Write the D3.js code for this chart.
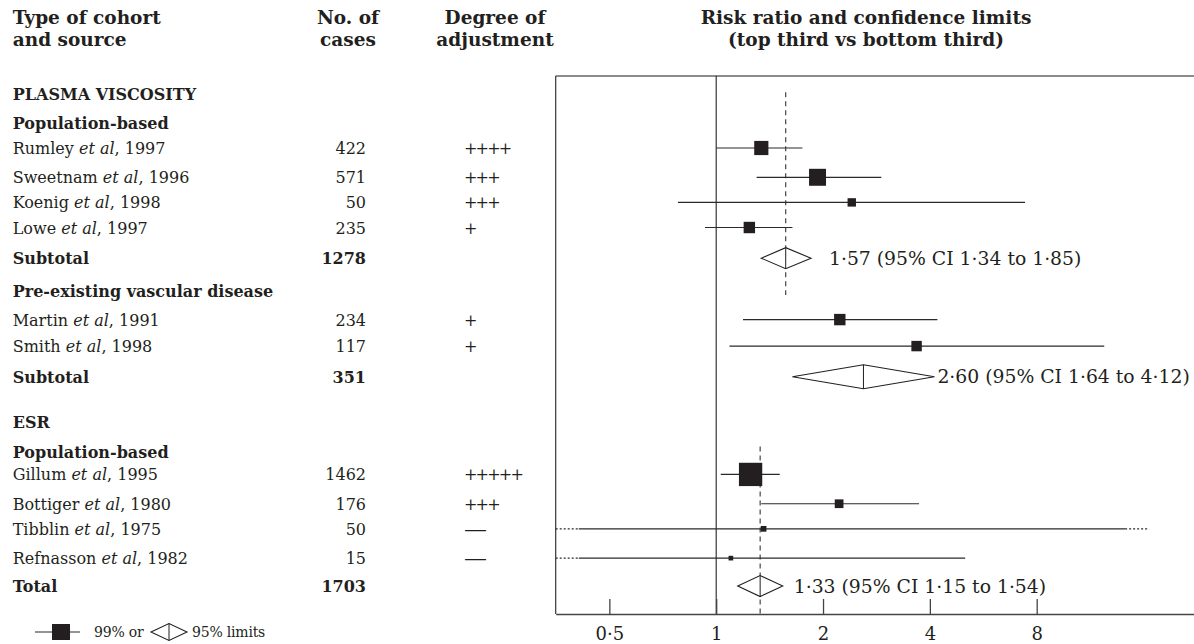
<!DOCTYPE html>
<html lang="en">
<head>
  <meta charset="UTF-8">
  <title>Plasma viscosity and ESR: risk ratios</title>
  <script src="https://d3js.org/d3.v7.min.js"></script>
  <style>
    body { margin: 0; background: #fff; }
    svg text { font-family: "DejaVu Serif", "Liberation Serif", serif; fill: #231f20; }
    .head { font-weight: bold; font-size: 18.5px; }
    .grp { font-weight: bold; font-size: 16px; }
    .row { font-size: 16px; }
    .note { font-size: 18.8px; }
    .leg { font-size: 14px; letter-spacing: -0.2px; }
    .axis text { font-family: "DejaVu Serif", serif; font-size: 18px; fill: #231f20; }
    .axis path, .axis line { stroke: #444; }
  </style>
</head>
<body>
  <script>
    // studies (one entry per cohort)
    var studyNames  = ["Rumley", "Sweetnam", "Koenig", "Lowe", "Martin", "Smith", "Gillum", "Bottiger", "Tibblin", "Refnasson"];
    var studyYears  = [1997, 1996, 1998, 1997, 1991, 1998, 1995, 1980, 1975, 1982];
    var studyCases  = [422, 571, 50, 235, 234, 117, 1462, 176, 50, 15];
    var studyAdjust = ["++++", "+++", "+++", "+", "+", "+", "+++++", "+++", "\u2014", "\u2014"];
    var studyRR     = [1.34, 1.93, 2.41, 1.24, 2.23, 3.67, 1.25, 2.22, 1.36, 1.10];
    var studyLo     = [1.00, 1.30, 0.78, 0.93, 1.19, 1.09, 1.03, 1.34, 0.41, 0.41];
    var studyHi     = [1.75, 2.92, 7.42, 1.64, 4.20, 12.4, 1.51, 3.73, 14.2, 5.03];
    var studyWeight = [37, 53, 13, 24, 24, 20, 100, 14, 6, 4];
    // limits running off the chart (drawn dotted)
    var dottedLo    = [null, null, null, null, null, null, null, null, 0.353, 0.353];
    var dottedHi    = [null, null, null, null, null, null, null, null, 16.6, null];

    // pooled estimates
    var summaryLabels = ["Subtotal", "Subtotal", "Total"];
    var summaryCases  = [1278, 351, 1703];
    var summaryRR     = [1.57, 2.60, 1.33];
    var summaryLo     = [1.34, 1.64, 1.15];
    var summaryHi     = [1.85, 4.12, 1.54];

    var headings = ["PLASMA VISCOSITY", "Population-based", "Pre-existing vascular disease", "ESR", "Population-based"];

    var tickValues = [0.5, 1, 2, 4, 8];

    // layout: row slots (one slot = one text line)
    var studySlot   = [0, 1.05, 1.95, 2.85, 6.15, 7.1, 11.7, 12.75, 13.65, 14.7];
    var summarySlot = [3.95, 8.2, 15.7];
    var headingSlot = [-1.95, -0.9, 5.13, 9.82, 10.9];
    var labelGap    = [18, 3, 11];

    var w = 1194, h = 644;
    var boxLeft = 555.7, boxTop = 76, axisY = 614;

    var svg = d3.select("body").append("svg")
      .attr("width", w)
      .attr("height", h);

    var x = d3.scaleLog().base(2)
      .domain([0.353, 22.2])
      .range([boxLeft, w]);

    var y = d3.scaleLinear()
      .domain([0, 16])
      .range([148, 148 + 16 * 27.9]);

    var side = d3.scaleSqrt()
      .domain([0, 100])
      .range([0, 23.3]);

    function mid(v) { return String(v).replace(".", "\u00b7"); }
    function fix2(v) { return v.toFixed(2).replace(".", "\u00b7"); }

    // column headers
    function twoLine(xp, anchor, a, b) {
      var t = svg.append("text").attr("class", "head").attr("text-anchor", anchor);
      t.append("tspan").attr("x", xp).attr("y", 24).text(a);
      t.append("tspan").attr("x", xp).attr("y", 46).text(b);
    }
    twoLine(12.7, "start", "Type of cohort", "and source");
    twoLine(348, "middle", "No. of", "cases");
    twoLine(495, "middle", "Degree of", "adjustment");
    twoLine(866, "middle", "Risk ratio and confidence limits", "(top third vs bottom third)");

    // group headings
    svg.selectAll(".grp").data(headings).enter().append("text")
      .attr("class", "grp")
      .attr("x", 12.7)
      .attr("y", function(d, i) { return y(headingSlot[i]) + 6; })
      .text(function(d) { return d; });

    // study rows (text)
    var rows = svg.selectAll(".srow").data(studyNames).enter().append("g").attr("class", "srow");
    var nameText = rows.append("text").attr("class", "row")
      .attr("x", 12.7)
      .attr("y", function(d, i) { return y(studySlot[i]) + 6; });
    nameText.append("tspan").text(function(d) { return d + " "; });
    nameText.append("tspan").attr("font-style", "italic").text("et al");
    nameText.append("tspan").text(function(d, i) { return ", " + studyYears[i]; });

    rows.append("text").attr("class", "row")
      .attr("x", 366).attr("text-anchor", "end")
      .attr("y", function(d, i) { return y(studySlot[i]) + 6; })
      .text(function(d, i) { return studyCases[i]; });

    rows.append("text").attr("class", "row")
      .attr("x", 464)
      .attr("letter-spacing", "-1.8")
      .attr("y", function(d, i) { return y(studySlot[i]) + 6; })
      .each(function(d, i) {
        if (studyAdjust[i] === "\u2014") {
          d3.select(this).attr("letter-spacing", null)
            .attr("textLength", 23).attr("lengthAdjust", "spacingAndGlyphs");
        }
      })
      .text(function(d, i) { return studyAdjust[i]; });

    // summary rows (text)
    svg.selectAll(".sumlab").data(summaryLabels).enter().append("text")
      .attr("class", "grp")
      .attr("x", 12.7)
      .attr("y", function(d, i) { return y(summarySlot[i]) + 6; })
      .text(function(d) { return d; });
    svg.selectAll(".sumn").data(summaryCases).enter().append("text")
      .attr("class", "grp")
      .attr("x", 366).attr("text-anchor", "end")
      .attr("y", function(d, i) { return y(summarySlot[i]) + 6; })
      .text(function(d) { return d; });

    // frame
    svg.append("line")
      .attr("x1", boxLeft).attr("x2", w)
      .attr("y1", boxTop).attr("y2", boxTop)
      .attr("stroke", "#666").attr("stroke-width", 1.6);
    svg.append("line")
      .attr("x1", boxLeft).attr("x2", boxLeft)
      .attr("y1", boxTop).attr("y2", axisY)
      .attr("stroke", "#333").attr("stroke-width", 1.2);

    // line of no effect
    svg.append("line")
      .attr("x1", x(1)).attr("x2", x(1))
      .attr("y1", boxTop).attr("y2", axisY)
      .attr("stroke", "#222").attr("stroke-width", 1.1);

    // dashed lines at pooled estimates
    svg.append("line")
      .attr("x1", x(summaryRR[0])).attr("x2", x(summaryRR[0]))
      .attr("y1", y(-2)).attr("y2", y(5.27))
      .attr("stroke", "#333").attr("stroke-width", 1.1)
      .attr("stroke-dasharray", "5,4");
    svg.append("line")
      .attr("x1", x(summaryRR[2])).attr("x2", x(summaryRR[2]))
      .attr("y1", y(10.7)).attr("y2", axisY)
      .attr("stroke", "#333").attr("stroke-width", 1.1)
      .attr("stroke-dasharray", "5,4");

    // confidence limits
    var marks = svg.append("g");
    marks.selectAll(".ci").data(studyRR).enter().append("line")
      .attr("x1", function(d, i) { return x(studyLo[i]); })
      .attr("x2", function(d, i) { return x(studyHi[i]); })
      .attr("y1", function(d, i) { return y(studySlot[i]); })
      .attr("y2", function(d, i) { return y(studySlot[i]); })
      .attr("stroke", "#2a2a2a").attr("stroke-width", 1.2);

    var dots = [];
    studyRR.forEach(function(d, i) {
      if (dottedLo[i] != null) dots.push([dottedLo[i], studyLo[i], studySlot[i]]);
      if (dottedHi[i] != null) dots.push([studyHi[i], dottedHi[i], studySlot[i]]);
    });
    marks.selectAll(".dot").data(dots).enter().append("line")
      .attr("x1", function(d) { return x(d[0]); })
      .attr("x2", function(d) { return x(d[1]); })
      .attr("y1", function(d) { return y(d[2]); })
      .attr("y2", function(d) { return y(d[2]); })
      .attr("stroke", "#2a2a2a").attr("stroke-width", 1.2)
      .attr("stroke-dasharray", "2,2");

    // point estimates
    marks.selectAll(".box").data(studyRR).enter().append("rect")
      .attr("x", function(d, i) { return x(d) - side(studyWeight[i]) / 2; })
      .attr("y", function(d, i) { return y(studySlot[i]) - side(studyWeight[i]) / 2; })
      .attr("width", function(d, i) { return side(studyWeight[i]); })
      .attr("height", function(d, i) { return side(studyWeight[i]); })
      .attr("fill", "#231f20");

    // pooled diamonds
    function diamond(x0, xc, x1, yc, hh) {
      return "M" + x0 + "," + yc + "L" + xc + "," + (yc - hh) + "L" + x1 + "," + yc +
        "L" + xc + "," + (yc + hh) + "Z";
    }
    var dia = svg.selectAll(".dia").data(summaryRR).enter().append("g");
    dia.append("path")
      .attr("d", function(d, i) {
        return diamond(x(summaryLo[i]), x(d), x(summaryHi[i]), y(summarySlot[i]), i == 1 ? 12 : 10.5);
      })
      .attr("fill", "#fff").attr("stroke", "#231f20").attr("stroke-width", 1.1);
    dia.append("line")
      .attr("x1", function(d) { return x(d); })
      .attr("x2", function(d) { return x(d); })
      .attr("y1", function(d, i) { return y(summarySlot[i]) - (i == 1 ? 12 : 10.5); })
      .attr("y2", function(d, i) { return y(summarySlot[i]) + (i == 1 ? 12 : 10.5); })
      .attr("stroke", "#231f20").attr("stroke-width", 1);
    dia.append("text").attr("class", "note")
      .attr("x", function(d, i) { return x(summaryHi[i]) + labelGap[i]; })
      .attr("y", function(d, i) { return y(summarySlot[i]) + 6.5; })
      .text(function(d, i) {
        return fix2(d) + " (95% CI " + fix2(summaryLo[i]) + " to " + fix2(summaryHi[i]) + ")";
      });

    // x axis
    var xAxis = d3.axisBottom(x)
      .tickValues(tickValues)
      .tickFormat(mid)
      .tickSizeInner(-15)
      .tickSizeOuter(0)
      .tickPadding(13);
    var ax = svg.append("g")
      .attr("class", "axis")
      .attr("transform", "translate(0," + axisY + ")")
      .call(xAxis);
    ax.select(".domain").attr("stroke-width", 1.6).attr("stroke", "#666");
    ax.selectAll(".tick line").attr("stroke-width", 1.3).attr("stroke", "#222");

    // legend
    var lg = svg.append("g").attr("transform", "translate(0,632)");
    lg.append("line").attr("x1", 35).attr("x2", 80).attr("y1", 0).attr("y2", 0)
      .attr("stroke", "#2a2a2a").attr("stroke-width", 1.2);
    lg.append("rect").attr("x", 52).attr("y", -8).attr("width", 18).attr("height", 16)
      .attr("fill", "#231f20");
    lg.append("text").attr("class", "leg").attr("x", 94).attr("y", 5).text("99% or");
    lg.append("path").attr("d", diamond(151, 169, 187, 0, 8.5))
      .attr("fill", "#fff").attr("stroke", "#231f20").attr("stroke-width", 1.1);
    lg.append("line").attr("x1", 169).attr("x2", 169).attr("y1", -8.5).attr("y2", 8.5)
      .attr("stroke", "#231f20");
    lg.append("text").attr("class", "leg").attr("x", 192).attr("y", 5).text("95% limits");
  </script>
</body>
</html>
